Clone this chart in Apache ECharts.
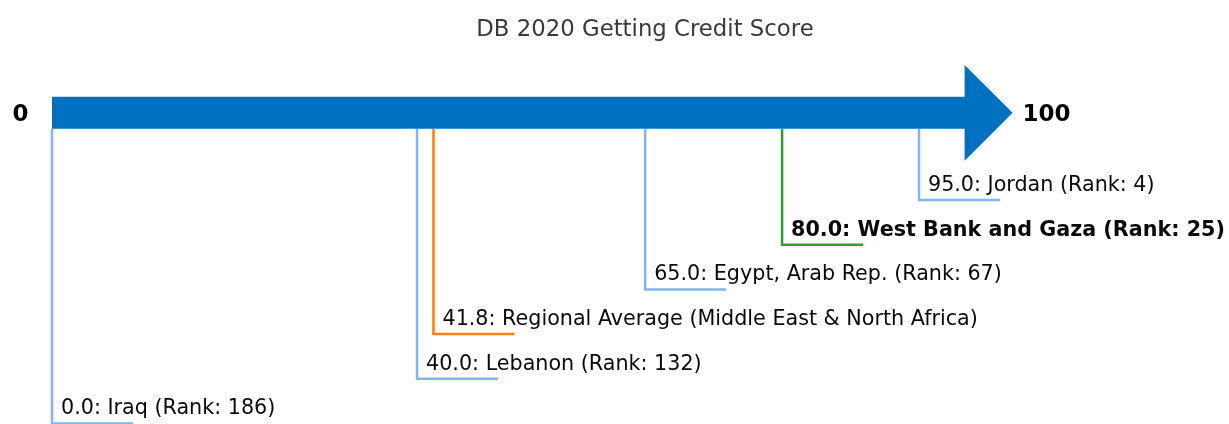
<!DOCTYPE html>
<html>
<head>
<meta charset="utf-8">
<title>DB 2020 Getting Credit Score</title>
<script src="https://cdn.jsdelivr.net/npm/echarts@6/dist/echarts.min.js"></script>
<style>
  html, body { margin: 0; padding: 0; background: #fff; }
  #chart { width: 1229px; height: 424px; }
</style>
</head>
<body>
<div id="chart"></div>
<script>
// economies, top to bottom as they hang under the arrow
const names = ['Jordan', 'West Bank and Gaza', 'Egypt, Arab Rep.', 'Regional Average (Middle East & North Africa)', 'Lebanon', 'Iraq']
const scores = [95, 80, 65, 41.8, 40, 0]
const ranks = [4, 25, 67, null, 132, 186]
const kinds = ['peer', 'focus', 'peer', 'average', 'peer', 'peer']
const scaleMin = 0
const scaleMax = 100

const kindColor = { peer: '#85b4ef', focus: '#2ca02c', average: '#ff7f0e' }
const arrowColor = '#0070c0'

const labelText = i => {
  let s = scores[i].toFixed(1) + ': ' + names[i]
  if (ranks[i] !== null) s += ' (Rank: ' + ranks[i] + ')'
  return s
}

const rows = scores.map((v, i) => [v, i])

const chart = echarts.init(document.getElementById('chart'))

chart.setOption({
  animation: false,
  title: {
    text: 'DB 2020 Getting Credit Score',
    left: 640,
    top: 14,
    textAlign: 'center',
    textStyle: { fontFamily: 'DejaVu Sans', fontSize: 22.8, fontWeight: 'normal', color: '#3a3a3a' }
  },
  grid: { left: 52, right: 264.4, top: 110.6, bottom: 0.5 },
  xAxis: { type: 'value', min: scaleMin, max: scaleMax, show: false },
  yAxis: { type: 'value', min: -2, max: 5, inverse: true, show: false },
  series: [
    {
      // leader lines + labels
      type: 'custom',
      z: 2,
      data: rows,
      renderItem(params, api) {
        const i = params.dataIndex
        const p = api.coord([api.value(0), api.value(1)])
        const topY = api.coord([0, -1.59])[1]
        const color = kindColor[kinds[i]]
        return {
          type: 'group',
          children: [
            {
              type: 'polyline',
              shape: { points: [[p[0], topY], [p[0], p[1]], [p[0] + 81, p[1]]] },
              style: { stroke: color, lineWidth: 2.5, fill: null }
            },
            {
              type: 'text',
              x: p[0] + 9,
              y: p[1] - 14.5,
              style: {
                text: labelText(i),
                fontFamily: 'DejaVu Sans',
                fontSize: 20.7,
                fontWeight: kinds[i] === 'focus' ? 'bold' : 'normal',
                fill: '#0a0a0a',
                verticalAlign: 'middle',
                align: 'left'
              }
            }
          ]
        }
      }
    },
    {
      // the big arrow from min to max
      type: 'custom',
      z: 3,
      data: [[scaleMin, scaleMax]],
      renderItem(params, api) {
        const x0 = api.coord([api.value(0), 0])[0]
        const x1 = api.coord([api.value(1), 0])[0]
        const cy = api.coord([0, -1.95])[1]
        return {
          type: 'group',
          children: [
            {
              type: 'polygon',
              shape: {
                points: [
                  [x0, cy - 16], [x1, cy - 16], [x1, cy - 47.8], [x1 + 48, cy],
                  [x1, cy + 47.8], [x1, cy + 16], [x0, cy + 16]
                ]
              },
              style: { fill: arrowColor }
            },
            {
              type: 'text',
              x: x0 - 31.5,
              y: cy + 2.5,
              style: {
                text: String(scaleMin),
                fontFamily: 'DejaVu Sans', fontSize: 23, fontWeight: 'bold',
                fill: '#000', align: 'center', verticalAlign: 'middle'
              }
            },
            {
              type: 'text',
              x: x1 + 58,
              y: cy + 2.5,
              style: {
                text: String(scaleMax),
                fontFamily: 'DejaVu Sans', fontSize: 23, fontWeight: 'bold',
                fill: '#000', align: 'left', verticalAlign: 'middle'
              }
            }
          ]
        }
      }
    }
  ]
})
</script>
</body>
</html>
